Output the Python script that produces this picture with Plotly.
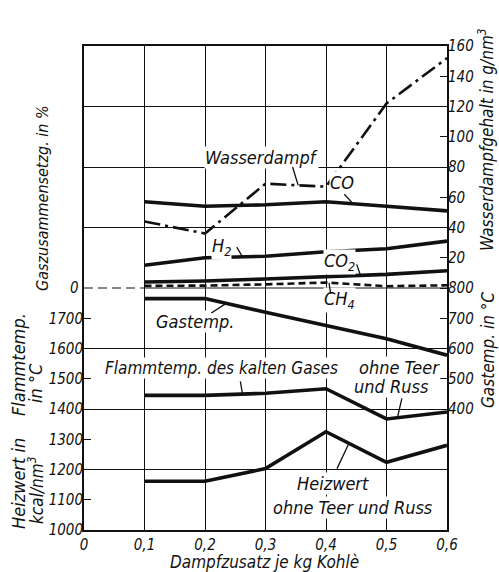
import numpy as np
import plotly.graph_objects as go

# ---------------- data ----------------
dampfzusatz = [0.1, 0.2, 0.3, 0.4, 0.5, 0.6]          # kg steam per kg coal
co = [28.5, 27.0, 27.5, 28.5, 27.0, 25.5]             # %
h2 = [7.5, 10.0, 10.5, 12.0, 13.0, 15.5]              # %
co2 = [2.0, 2.3, 3.0, 3.6, 4.5, 5.7]                  # %
ch4 = [0.7, 0.8, 1.2, 1.8, 0.6, 0.9]                  # %
wasserdampf = [44, 36, 69, 67, 122, 152]              # g/nm3
gastemp = [765, 765, 720, 677, 632, 578]              # deg C
flammtemp = [1445, 1445, 1452, 1467, 1367, 1390]      # deg C
heizwert = [1161, 1161, 1203, 1325, 1224, 1280]       # kcal/nm3

x_ticks = [0, 0.1, 0.2, 0.3, 0.4, 0.5, 0.6]
x_ticktext = ["0", "0,1", "0,2", "0,3", "0,4", "0,5", "0,6"]
pct_ticks = [10, 20, 30, 40]
lower_ticks = [1000, 1100, 1200, 1300, 1400, 1500, 1600, 1700]
wd_ticks = [20, 40, 60, 80, 100, 120, 140, 160]
gt_ticks = [400, 500, 600, 700, 800]

# ---------------- style ----------------
FONT = "DejaVu Sans Condensed, Liberation Sans Narrow, DejaVu Sans, sans-serif"
INK = "#111111"
W, H = 499, 572
ML, MR, MT, MB = 84, 52, 46, 42
TICK_SIZE = 15


def tf(size):
    return dict(family=FONT, size=size, color=INK, style="italic")


# axis relations (all y axes share the same pixel grid)
def g_to_pct(g):
    return np.asarray(g, float) / 2.0


def t_to_pct(t):
    return (np.asarray(t, float) - 800.0) / 10.0


def low_to_pct(v):
    return (np.asarray(v, float) - 1800.0) / 10.0


fig = go.Figure()
line_thick = dict(color=INK, width=3.6)

fig.add_trace(go.Scatter(x=dampfzusatz, y=co, mode="lines", line=line_thick, yaxis="y"))
fig.add_trace(go.Scatter(x=dampfzusatz, y=h2, mode="lines", line=line_thick, yaxis="y"))
fig.add_trace(go.Scatter(x=dampfzusatz, y=co2, mode="lines", line=line_thick, yaxis="y"))
fig.add_trace(go.Scatter(x=dampfzusatz, y=ch4, mode="lines",
                         line=dict(color=INK, width=2.6, dash="7px,4px"), yaxis="y"))
fig.add_trace(go.Scatter(x=dampfzusatz, y=wasserdampf, mode="lines",
                         line=dict(color=INK, width=2.6, dash="16px,5px,3px,5px"), yaxis="y2"))
fig.add_trace(go.Scatter(x=dampfzusatz, y=gastemp, mode="lines", line=line_thick, yaxis="y4"))
fig.add_trace(go.Scatter(x=dampfzusatz, y=flammtemp, mode="lines", line=line_thick, yaxis="y5"))
fig.add_trace(go.Scatter(x=dampfzusatz, y=heizwert, mode="lines", line=line_thick, yaxis="y5"))

# ---------------- labels ----------------
anns = []


def label(text, x, y, size=18):
    anns.append(dict(text=text, x=x, y=y, xref="x", yref="y", showarrow=False,
                     font=tf(size), bgcolor="white", borderpad=0,
                     xanchor="center", yanchor="middle"))


def leader(x_head, series_pct, x_tail, y_tail):
    y_head = float(np.interp(x_head, dampfzusatz, series_pct))
    anns.append(dict(text="", x=x_head, y=y_head, xref="x", yref="y",
                     ax=x_tail, ay=y_tail, axref="x", ayref="y",
                     showarrow=True, arrowhead=0, arrowwidth=1.3, arrowcolor=INK))


label("Wasserdampf", 0.294, 43.3)
leader(0.354, g_to_pct(wasserdampf), 0.344, 40.5)
label("CO", 0.426, 35.0)
leader(0.445, co, 0.428, 31.5)
label("H<sub>2</sub>", 0.228, 13.6)
leader(0.262, h2, 0.251, 14.0)
label("CO<sub>2</sub>", 0.423, 8.6)
leader(0.457, co2, 0.450, 8.3)
label("CH<sub>4</sub>", 0.423, -4.0)
leader(0.405, ch4, 0.408, -2.3)
label("Gastemp.", 0.183, -11.2)
leader(0.235, t_to_pct(gastemp), 0.208, -8.6)
label("Flammtemp. des kalten Gases", 0.228, -26.4, size=17)
leader(0.262, low_to_pct(flammtemp), 0.258, -30.4)
label("ohne Teer", 0.522, -26.4)
label("und Russ", 0.509, -32.7)
leader(0.518, low_to_pct(flammtemp), 0.526, -36.0)
label("Heizwert", 0.412, -64.5)
label("ohne Teer und Russ", 0.445, -72.4)
leader(0.438, low_to_pct(heizwert), 0.417, -60.2)


def px_paper(px, py):
    return (px - ML) / (W - ML - MR), (H - MB - py) / (H - MT - MB)


def title(text, px, py, size, angle=-90):
    xp, yp = px_paper(px, py)
    anns.append(dict(text=text, x=xp, y=yp, xref="paper", yref="paper", showarrow=False,
                     textangle=angle, font=tf(size), xanchor="center", yanchor="middle"))


title("Gaszusammensetzg. in %", 43, 198, 16)
title("Flammtemp.", 18, 365, 18)
title("in °C", 35, 383, 18)
title("Heizwert in", 18, 484, 18)
title("kcal/nm<sup>3</sup>", 36, 490, 17)
title("Wasserdampfgehalt in g/nm<sup>3</sup>", 486, 140, 17)
title("Gastemp. in °C", 488, 350, 17)
title("Dampfzusatz je kg Kohlè", 264, 562, 17, angle=0)

# "0" of the percentage scale (plotly suppresses it as an axis label here)
anns.append(dict(text="0", x=px_paper(81, 0)[0], y=0, xref="paper", yref="y",
                 showarrow=False, font=tf(TICK_SIZE), xanchor="right", yanchor="middle"))

# ---------------- axes ----------------
common_overlay = dict(overlaying="y", anchor="x", showgrid=False, zeroline=False,
                      showline=False, ticks="inside", ticklen=7, tickwidth=1.3,
                      tickcolor=INK, tickfont=tf(TICK_SIZE))

grid_vals = [v for v in range(-80, 81, 20) if v != 0]

fig.update_layout(
    width=W, height=H,
    margin=dict(l=ML, r=MR, t=MT, b=MB),
    paper_bgcolor="white", plot_bgcolor="white",
    showlegend=False,
    annotations=anns,
    xaxis=dict(range=[0, 0.6], tickvals=x_ticks, ticktext=x_ticktext,
               showgrid=True, gridcolor=INK, gridwidth=1, zeroline=False,
               showline=True, mirror=True, linecolor=INK, linewidth=1.6,
               ticks="", tickfont=tf(TICK_SIZE), fixedrange=True),
    yaxis=dict(range=[-80, 80], tickvals=grid_vals, showticklabels=False,
               showgrid=True, gridcolor=INK, gridwidth=1, zeroline=False,
               showline=True, mirror=True, linecolor=INK, linewidth=1.6, ticks=""),
    yaxis3=dict(side="left", range=[-80, 80], tickvals=pct_ticks,
                ticktext=[str(v) for v in pct_ticks], **common_overlay),
    yaxis5=dict(side="left", range=[1000, 2600], tickvals=lower_ticks,
                ticktext=[str(v) for v in lower_ticks], **common_overlay),
    yaxis2=dict(side="right", range=[-160, 160], tickvals=wd_ticks,
                ticktext=[str(v) for v in wd_ticks], **common_overlay),
    yaxis4=dict(side="right", range=[0, 1600], tickvals=gt_ticks,
                ticktext=[str(v) for v in gt_ticks], **common_overlay),
    shapes=[
        # zero line: dashed in the first column, solid elsewhere
        dict(type="line", xref="x", yref="y", x0=0, x1=0.1, y0=0, y1=0, layer="below",
             line=dict(color=INK, width=1.1, dash="9px,5px")),
        dict(type="line", xref="x", yref="y", x0=0.1, x1=0.6, y0=0, y1=0, layer="below",
             line=dict(color=INK, width=1.0)),
    ],
)

fig.write_html("out.html", config={"displayModeBar": False},
               post_script="document.body.style.margin='0';document.body.style.overflow='hidden';")
